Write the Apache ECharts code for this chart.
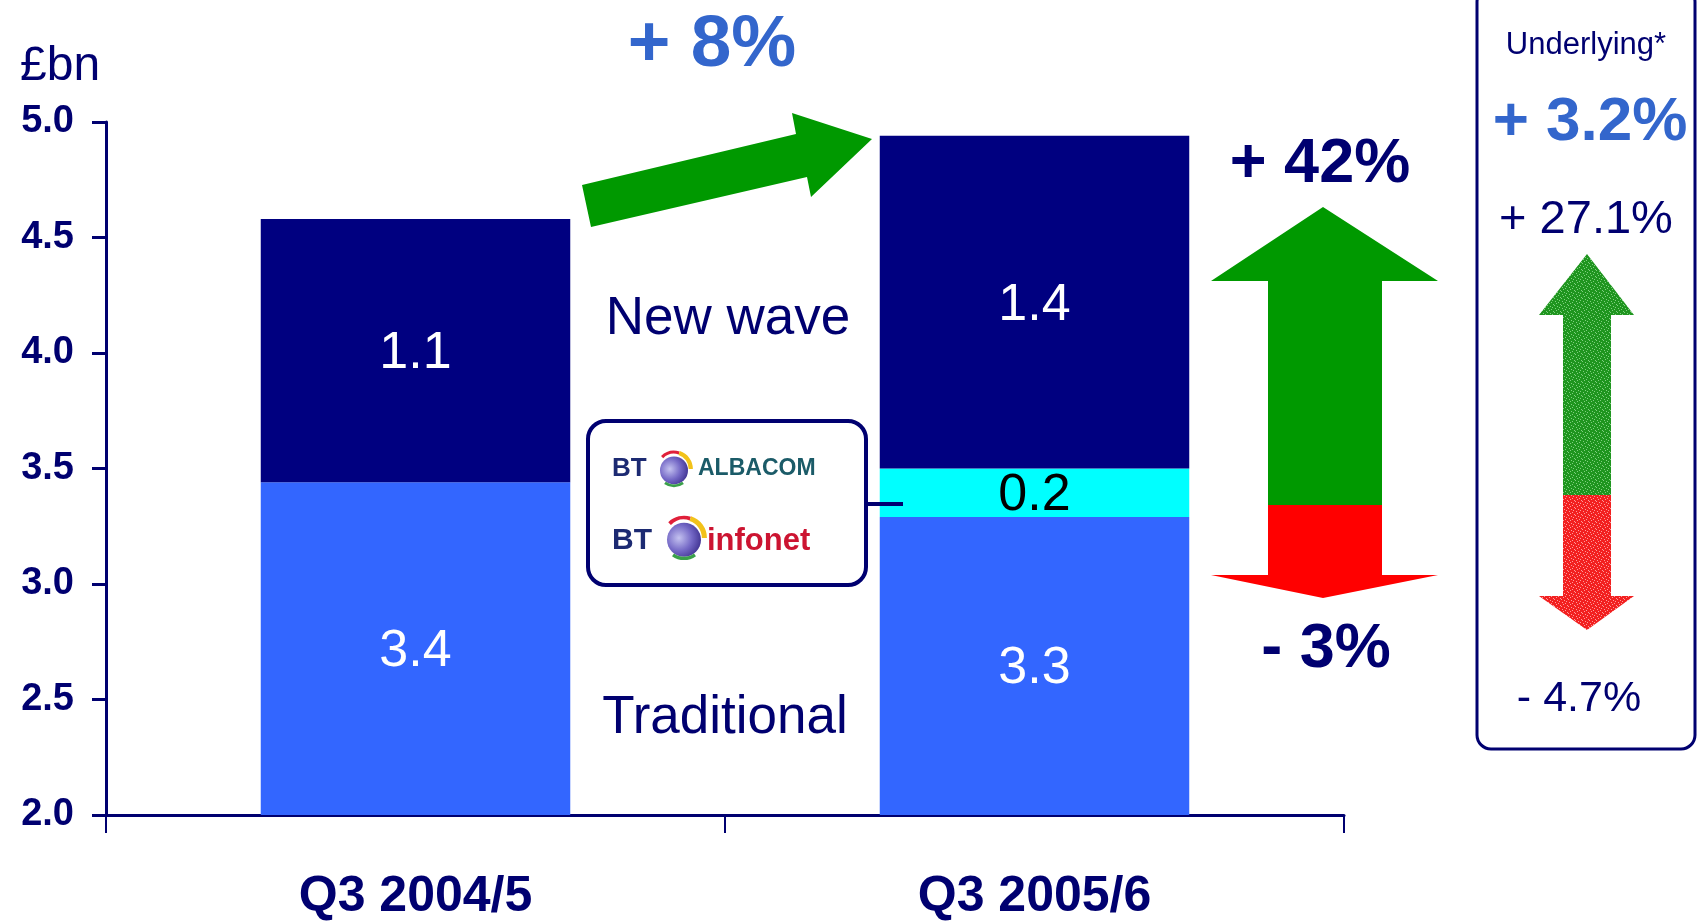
<!DOCTYPE html>
<html>
<head>
<meta charset="utf-8">
<script src="https://cdn.jsdelivr.net/npm/echarts@6/dist/echarts.min.js"></script>
<style>
  html, body { margin: 0; padding: 0; background: #ffffff; }
  #chart { width: 1697px; height: 922px; }
</style>
</head>
<body>
<div id="chart"></div>
<script>
// Quarterly revenue, £bn
const categories = ['Q3 2004/5', 'Q3 2005/6'];
const traditional = [3.44, 3.29];
const acquisitions = [null, 0.21];   // BT Albacom + BT Infonet
const newWave = [1.14, 1.44];

const yMin = 2.0;
const yMax = 5.0;
const yStep = 0.5;

// Growth call-outs
const totalGrowth = '+ 8%';
const newWaveGrowth = '+ 42%';
const traditionalGrowth = '- 3%';
const underlyingTitle = 'Underlying*';
const underlyingTotal = '+ 3.2%';
const underlyingNewWave = '+ 27.1%';
const underlyingTraditional = '- 4.7%';

const NAVY = '#000070';
const FONT = '"Liberation Sans", Arial, Helvetica, sans-serif';

// Speckled fill used by the small arrow in the side panel
function speckle(base, dot) {
  const c = document.createElement('canvas');
  c.width = 7; c.height = 7;
  const g = c.getContext('2d');
  g.fillStyle = base;
  g.fillRect(0, 0, 7, 7);
  g.fillStyle = dot;
  const dots = [[1,0],[4,1],[6,3],[0,4],[3,5],[5,6],[2,2]];
  dots.forEach(function (d) { g.fillRect(d[0], d[1], 1, 1); });
  return { image: c, repeat: 'repeat' };
}

// BT "piper" globe mark
function piper(cx, cy, r) {
  return {
    type: 'group',
    z: 12,
    children: [
      { type: 'circle', z: 12, shape: { cx: cx, cy: cy + r * 0.1, r: r },
        style: { fill: new echarts.graphic.RadialGradient(0.35, 0.45, 0.7, [
          { offset: 0, color: '#c4c2f0' }, { offset: 0.55, color: '#7468c6' }, { offset: 1, color: '#3c2f8e' }]) } },
      { type: 'arc', z: 13, shape: { cx: cx, cy: cy, r: r * 1.2, startAngle: -Math.PI * 0.75, endAngle: -Math.PI * 0.4 },
        style: { stroke: '#e0203a', lineWidth: r * 0.22, fill: null } },
      { type: 'arc', z: 13, shape: { cx: cx, cy: cy, r: r * 1.2, startAngle: -Math.PI * 0.4, endAngle: Math.PI * 0.0 },
        style: { stroke: '#f2c21a', lineWidth: r * 0.3, fill: null } },
      { type: 'arc', z: 13, shape: { cx: cx, cy: cy + r * 0.1, r: r * 1.1, startAngle: Math.PI * 0.3, endAngle: Math.PI * 0.7 },
        style: { stroke: '#3aa04a', lineWidth: r * 0.2, fill: null } }
    ]
  };
}

function txt(x, y, text, size, color, weight, align) {
  return {
    type: 'text', x: x, y: y, z: 12,
    style: { text: text, fill: color, font: (weight || 'normal') + ' ' + size + 'px ' + FONT,
             align: align || 'center', verticalAlign: 'middle' }
  };
}

const chart = echarts.init(document.getElementById('chart'), null, { renderer: 'canvas' });

const segLabel = function (color) {
  return {
    show: true, position: 'inside', offset: [0, 3], color: color, fontSize: 52, fontFamily: FONT,
    formatter: function (p) { return p.value == null ? '' : Number(p.value).toFixed(1); }
  };
};

chart.setOption({
  animation: false,
  backgroundColor: '#ffffff',
  grid: { left: 106, right: 353, top: 122, bottom: 107 },
  xAxis: {
    type: 'category',
    data: categories,
    axisLine: { lineStyle: { color: NAVY, width: 3 } },
    axisTick: { show: true, length: 18, lineStyle: { color: NAVY, width: 2 } },
    axisLabel: { color: NAVY, fontSize: 50, fontWeight: 'bold', fontFamily: FONT, margin: 57 }
  },
  yAxis: {
    type: 'value',
    min: yMin, max: yMax, interval: yStep,
    axisLine: { show: true, lineStyle: { color: NAVY, width: 3 } },
    axisTick: { show: true, length: 14, lineStyle: { color: NAVY, width: 3 } },
    splitLine: { show: false },
    axisLabel: { color: NAVY, fontSize: 38, fontWeight: 'bold', fontFamily: FONT, margin: 32,
                 formatter: function (v) { return v.toFixed(1); } }
  },
  series: [
    { name: 'Traditional', type: 'bar', stack: 'rev', barWidth: '50%', data: traditional,
      itemStyle: { color: '#3366ff' }, label: segLabel('#ffffff') },
    { name: 'Albacom / Infonet', type: 'bar', stack: 'rev', data: acquisitions,
      itemStyle: { color: '#00ffff' }, label: segLabel('#000000') },
    { name: 'New wave', type: 'bar', stack: 'rev', data: newWave,
      itemStyle: { color: '#000080' }, label: segLabel('#ffffff') }
  ],
  graphic: [
    txt(20, 67, '£bn', 48, NAVY, 'normal', 'left'),
    txt(728, 319, 'New wave', 53, NAVY),
    txt(725, 718, 'Traditional', 53, NAVY),
    txt(712, 46, totalGrowth, 73, '#3366cc', 'bold'),

    // diagonal growth arrow between the bars
    { type: 'polygon', z: 5,
      shape: { points: [[582,185],[796,134],[792,113],[872,139],[811,197],[807,177],[591,227]] },
      style: { fill: '#009900' } },

    // new wave / traditional arrows
    txt(1320, 165, newWaveGrowth, 63, NAVY, 'bold'),
    { type: 'polygon', z: 5,
      shape: { points: [[1323,207],[1438,281],[1382,281],[1382,505],[1268,505],[1268,281],[1211,281]] },
      style: { fill: '#009900' } },
    { type: 'polygon', z: 5,
      shape: { points: [[1268,505],[1382,505],[1382,575],[1438,575],[1323,598],[1211,575],[1268,575]] },
      style: { fill: '#ff0000' } },
    txt(1326, 650, traditionalGrowth, 63, NAVY, 'bold'),

    // acquisitions call-out box
    { type: 'line', z: 6, shape: { x1: 866, y1: 504, x2: 903, y2: 504 },
      style: { stroke: NAVY, lineWidth: 4 } },
    { type: 'rect', z: 6, shape: { x: 588, y: 421, width: 278, height: 164, r: 18 },
      style: { fill: '#ffffff', stroke: NAVY, lineWidth: 4 } },
    txt(612, 469, 'BT', 26, '#1c2a72', 'bold', 'left'),
    piper(674, 469, 14),
    txt(698, 469, 'ALBACOM', 23, '#1b5b68', 'bold', 'left'),
    txt(612, 541, 'BT', 30, '#1c2a72', 'bold', 'left'),
    piper(684, 538, 17),
    txt(707, 541, 'infonet', 31, '#cc1431', 'bold', 'left'),

    // underlying growth panel
    { type: 'rect', z: 6, shape: { x: 1477, y: -12, width: 218, height: 761, r: 14 },
      style: { fill: '#ffffff', stroke: NAVY, lineWidth: 3 } },
    txt(1586, 45, underlyingTitle, 31, NAVY),
    txt(1590, 123, underlyingTotal, 62, '#3366cc', 'bold'),
    txt(1586, 220, underlyingNewWave, 47, NAVY),
    { type: 'polygon', z: 8,
      shape: { points: [[1587,254],[1634,315],[1611,315],[1611,495],[1563,495],[1563,315],[1539,315]] },
      style: { fill: speckle('#1f951f', '#7fcf7f') } },
    { type: 'polygon', z: 8,
      shape: { points: [[1563,495],[1611,495],[1611,596],[1634,596],[1587,630],[1539,596],[1563,596]] },
      style: { fill: speckle('#f22020', '#ff9a9a') } },
    txt(1579, 699, underlyingTraditional, 43, NAVY)
  ]
});
</script>
</body>
</html>
